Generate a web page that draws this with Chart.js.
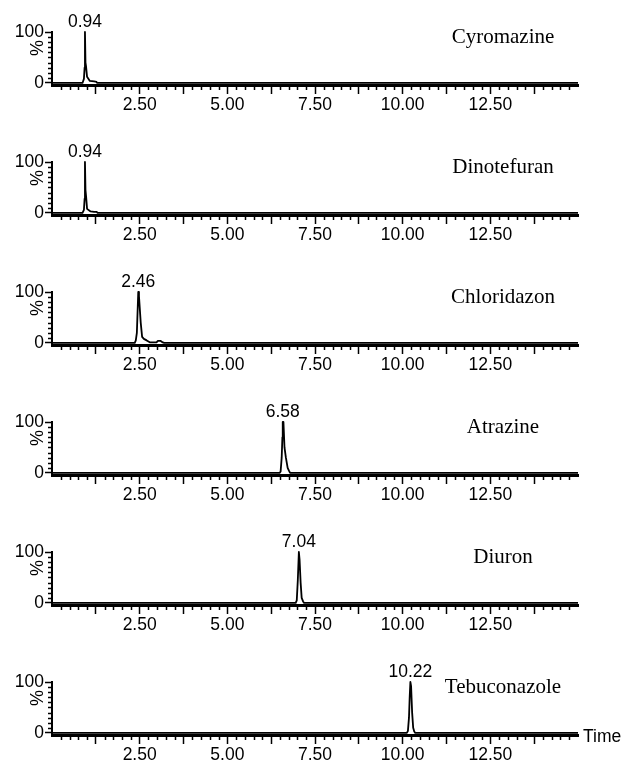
<!DOCTYPE html>
<html>
<head>
<meta charset="utf-8">
<script src="https://cdn.jsdelivr.net/npm/chart.js@4.4.0/dist/chart.umd.min.js"></script>
<style>
body{margin:0;background:#fff;overflow:hidden;}
canvas{display:block;}
</style>
</head>
<body>
<div id="paneles"></div>
<script>
const compuestos = ['Cyromazine','Dinotefuran','Chloridazon','Atrazine','Diuron','Tebuconazole'];
const tiempoPico = ['0.94','0.94','2.46','6.58','7.04','10.22'];

const xTickValores = [1.25,2.5,3.75,5,6.25,7.5,8.75,10,11.25,12.5,13.75];
const xTickEtiquetas = ['','2.50','','5.00','','7.50','','10.00','','12.50',''];
const yTickValores = [0,100];

const tCyromazine = [0,0.87,0.91,0.93,0.94,0.955,0.97,1.0,1.08,1.2,1.27,1.29,15];
const iCyromazine = [0,0,8,30,100,40,33,12,4,3,2,0,0];
const tDinotefuran = [0,0.87,0.91,0.93,0.94,0.955,0.975,1.0,1.1,1.2,1.28,1.3,15];
const iDinotefuran = [0,0,6,28,100,45,30,8,3,2,2,0,0];
const tChloridazon = [0,2.36,2.39,2.42,2.46,2.48,2.53,2.57,2.62,2.7,2.8,2.98,3.02,3.1,3.16,3.2,15];
const iChloridazon = [0,0,5,20,100,92,40,12,8,5,1,1,4,4,1,0,0];
const tAtrazine = [0,6.49,6.52,6.55,6.57,6.58,6.6,6.63,6.67,6.72,6.76,6.79,15];
const iAtrazine = [0,0,3,30,70,100,100,50,30,10,4,0,0];
const tDiuron = [0,6.95,6.98,7.01,7.04,7.06,7.09,7.12,7.16,7.19,15];
const iDiuron = [0,0,5,45,100,85,40,10,3,0,0];
const tTebuconazole = [0,10.12,10.15,10.18,10.2,10.22,10.24,10.27,10.3,10.33,10.36,15];
const iTebuconazole = [0,0,4,30,70,100,92,40,10,3,0,0];

const tiempos = [tCyromazine,tDinotefuran,tChloridazon,tAtrazine,tDiuron,tTebuconazole];
const intensidades = [iCyromazine,iDinotefuran,iChloridazon,iAtrazine,iDiuron,iTebuconazole];

Chart.defaults.font.family = '"Liberation Sans", Arial, sans-serif';
Chart.defaults.color = '#000';

const decoracion = {
    id: 'decoracion',
    afterDraw(chart, args, opts){
        let ctx = chart.ctx;
        let sx = chart.scales.x;
        let sy = chart.scales.y;
        let area = chart.chartArea;
        ctx.save();
        ctx.strokeStyle = '#000';
        ctx.fillStyle = '#000';
        ctx.lineWidth = 1.5;

        // ticks menores
        ctx.beginPath();
        for(var i = 1; i < 60; i++){
            if(i % 5 == 0) continue;
            let px = Math.round(sx.getPixelForValue(i * 0.25)) + 0.5;
            ctx.moveTo(px, area.bottom);
            ctx.lineTo(px, area.bottom + 5);
        }
        for(var j = 1; j < 10; j++){
            let py = Math.round(sy.getPixelForValue(j * 10)) + 0.5;
            ctx.moveTo(area.left - 4, py);
            ctx.lineTo(area.left, py);
        }
        ctx.stroke();

        ctx.font = '17.5px "Liberation Sans", Arial, sans-serif';
        ctx.textAlign = 'center';
        ctx.textBaseline = 'alphabetic';
        ctx.fillText(opts.pico, sx.getPixelForValue(parseFloat(opts.pico)), area.top - 5);

        ctx.save();
        ctx.translate(38, area.top + 16);
        ctx.rotate(-Math.PI / 2);
        ctx.textBaseline = 'middle';
        ctx.font = '18px "Liberation Sans", Arial, sans-serif';
        ctx.fillText('%', 0, 0);
        ctx.restore();

        if(opts.ultimo){
            ctx.textAlign = 'left';
            ctx.textBaseline = 'middle';
            ctx.fillText('Time', area.right + 5, area.bottom + 2);
        }

        ctx.font = '21px "Liberation Serif", "Times New Roman", serif';
        ctx.textAlign = 'center';
        ctx.textBaseline = 'alphabetic';
        ctx.fillText(opts.nombre, 503, area.top + 11);
        ctx.restore();
    }
};

function crearPanel(n){
    let canvas = document.createElement('canvas');
    canvas.width = 622;
    canvas.height = 130;
    canvas.style.width = '622px';
    canvas.style.height = '130px';
    document.querySelector('#paneles').appendChild(canvas);

    let puntos = [];
    for(var i = 0; i < tiempos[n].length; i++){
        puntos.push({x: tiempos[n][i], y: intensidades[n][i]});
    }

    new Chart(canvas, {
        type: 'line',
        data: {
            datasets: [{
                data: puntos,
                borderColor: '#000',
                borderWidth: 1.8,
                pointRadius: 0,
                tension: 0,
                borderJoinStyle: 'round',
                clip: 6
            }]
        },
        options: {
            responsive: false,
            animation: false,
            events: [],
            layout: {padding: {top: 32, right: 44, left: 0, bottom: 0}},
            plugins: {
                legend: {display: false},
                tooltip: {enabled: false},
                decoracion: {nombre: compuestos[n], pico: tiempoPico[n], ultimo: n == compuestos.length - 1}
            },
            scales: {
                x: {
                    type: 'linear',
                    min: 0,
                    max: 15,
                    afterBuildTicks: function(s){ s.ticks = xTickValores.map(v => ({value: v})); },
                    afterFit: function(s){ s.height = 45; },
                    grid: {drawOnChartArea: false, drawTicks: true, tickLength: 9, tickWidth: 1.5, tickColor: '#000'},
                    border: {color: '#000', width: 3},
                    ticks: {
                        autoSkip: false,
                        maxRotation: 0,
                        padding: 1,
                        font: {size: 17.5},
                        callback: function(v, idx){ return xTickEtiquetas[idx]; }
                    }
                },
                y: {
                    min: -4,
                    max: 100,
                    afterBuildTicks: function(s){ s.ticks = yTickValores.map(v => ({value: v})); },
                    afterFit: function(s){ s.width = 52; },
                    grid: {drawOnChartArea: false, drawTicks: true, tickLength: 7, tickWidth: 1.5, tickColor: '#000'},
                    border: {color: '#000', width: 2},
                    ticks: {padding: 1, font: {size: 17.5}}
                }
            }
        },
        plugins: [decoracion]
    });
}

for(var k = 0; k < compuestos.length; k++){
    crearPanel(k);
}
</script>
</body>
</html>
